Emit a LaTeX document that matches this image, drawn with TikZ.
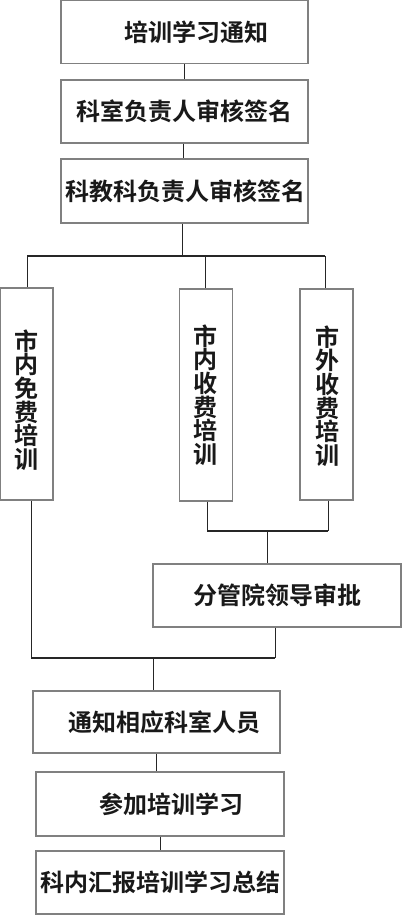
\documentclass[tikz,border=0pt]{standalone}
\usepackage{fontspec}
\setmainfont{Noto Sans CJK SC}[BoldFont={Noto Sans CJK SC Bold}]
\newcommand{\tightlines}{\lineskiplimit=-20pt\relax\lineskip=0pt\relax}
\begin{document}
\begin{tikzpicture}[x=1pt,y=-1pt,
  box/.style={draw=black!50,line width=1.1pt,rectangle,inner sep=0pt,
    font=\fontsize{24}{23.6}\selectfont\bfseries,text=black!90},
  vbox/.style={draw=black!50,line width=1.1pt,rectangle,inner sep=0pt,minimum width=53pt},
  vtext/.style={align=center,inner sep=0pt,text=black!90,
    font=\fontsize{24}{23.6}\selectfont\bfseries\tightlines},
  conn/.style={draw=black!85,line width=0.9pt},
  bar/.style={draw=black!85,line width=1.5pt}]
\useasboundingbox (0,0) rectangle (402,915);
\fill[white] (0,0) rectangle (402,915);
% top boxes
\node[box,minimum width=247pt,minimum height=63pt] (b1) at (184.5,32) {\kern24pt 培训学习通知};
\node[box,minimum width=247pt,minimum height=63pt] (b2) at (184.5,111.5) {科室负责人审核签名};
\node[box,minimum width=247pt,minimum height=64pt] (b3) at (184.5,191) {\kern2pt 科教科负责人审核签名};
% vertical boxes
\node[vbox,minimum height=212pt] (v1) at (26.5,394) {};
\node[vbox,minimum height=212pt] (v2) at (206,395) {};
\node[vbox,minimum height=211pt] (v3) at (326.5,394.5) {};
\node[vtext] (v1t) at (26,400) {市\\内\\免\\费\\培\\训};
\node[vtext] (v2t) at (205.5,395) {市\\内\\收\\费\\培\\训};
\node[vtext] (v3t) at (327,396) {市\\外\\收\\费\\培\\训};
% approval
\node[box,minimum width=248pt,minimum height=63pt] (ap) at (277,595.5) {分管院领导审批};
% bottom boxes
\node[box,minimum width=247pt,minimum height=62pt] (n1) at (156.5,722) {\kern15pt 通知相应科室人员};
\node[box,minimum width=248pt,minimum height=64pt] (n2) at (160,804) {\kern23pt 参加培训学习};
\node[box,minimum width=248pt,minimum height=63pt] (n3) at (160,882.5) {科内汇报培训学习总结};
% junctions
\coordinate (j1) at (182,256);
\coordinate (j1l) at (27,256);
\coordinate (j1m) at (205,256);
\coordinate (j1r) at (325,256);
\coordinate (j2l) at (207,531);
\coordinate (j2r) at (328,531);
\coordinate (j2) at (267,531);
\coordinate (j3l) at (31,658);
\coordinate (j3r) at (275,658);
\coordinate (j3) at (153,658);
% connectors
\draw[conn] (b1) -- (b2);
\draw[conn] ([xshift=-1.5pt]b2.south) -- ([xshift=-1.5pt]b3.north);
\draw[conn] (b3.south -| j1) -- (j1);
\draw[bar] (j1l) -- (j1r);
\draw[conn] (j1l) -- (j1l |- v1.north);
\draw[conn] (j1m) -- (j1m |- v2.north);
\draw[conn] (j1r) -- (j1r |- v3.north);
\draw[conn] (v2.south -| j2l) -- (j2l);
\draw[conn] (v3.south -| j2r) -- (j2r);
\draw[bar] (j2l) -- (j2r);
\draw[conn] (j2) -- (j2 |- ap.north);
\draw[conn] (ap.south -| j3r) -- (j3r);
\draw[conn] (v1.south -| j3l) -- (j3l);
\draw[bar] (j3l) -- (j3r);
\draw[conn] (j3) -- (j3 |- n1.north);
\draw[conn] (n1.south) -- (n2.north -| n1.south);
\draw[conn] (n2) -- (n3);
\end{tikzpicture}
\end{document}
